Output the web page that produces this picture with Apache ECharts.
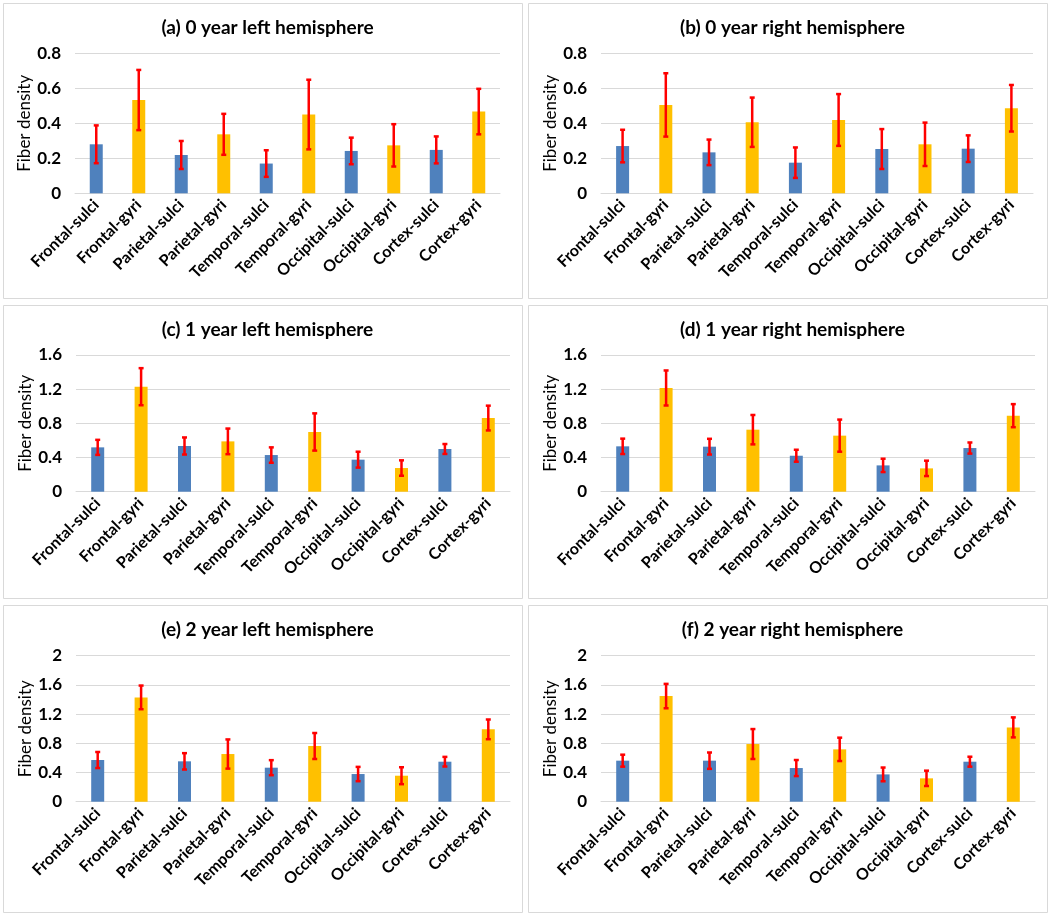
<!DOCTYPE html>
<html><head><meta charset="utf-8">
<script src="https://cdn.jsdelivr.net/npm/echarts@6/dist/echarts.min.js"></script>
<style>html,body{margin:0;padding:0;background:#fff}#c{width:1050px;height:914px}</style>
</head><body><div id="c"></div>
<script>
var categories = ['Frontal-sulci','Frontal-gyri','Parietal-sulci','Parietal-gyri','Temporal-sulci','Temporal-gyri','Occipital-sulci','Occipital-gyri','Cortex-sulci','Cortex-gyri'];
var titles = ['(a) 0 year left hemisphere','(b) 0 year right hemisphere','(c) 1 year left hemisphere','(d) 1 year right hemisphere','(e) 2 year left hemisphere','(f) 2 year right hemisphere'];
var meanA = [0.28,0.533,0.219,0.337,0.170,0.450,0.242,0.274,0.248,0.467];
var errA  = [0.108,0.172,0.080,0.117,0.076,0.199,0.076,0.121,0.077,0.130];
var meanB = [0.270,0.505,0.234,0.406,0.175,0.419,0.253,0.280,0.255,0.486];
var errB  = [0.093,0.181,0.073,0.141,0.087,0.148,0.114,0.124,0.076,0.133];
var meanC = [0.519,1.229,0.535,0.589,0.429,0.699,0.375,0.277,0.500,0.862];
var errC  = [0.088,0.217,0.100,0.150,0.090,0.218,0.093,0.090,0.058,0.145];
var meanD = [0.531,1.214,0.527,0.726,0.421,0.656,0.308,0.273,0.511,0.890];
var errD  = [0.090,0.205,0.092,0.172,0.070,0.188,0.078,0.090,0.065,0.135];
var meanE = [0.571,1.429,0.553,0.653,0.466,0.763,0.379,0.356,0.548,0.991];
var errE  = [0.110,0.162,0.112,0.200,0.103,0.178,0.098,0.116,0.066,0.135];
var meanF = [0.562,1.447,0.562,0.790,0.461,0.717,0.374,0.320,0.548,1.018];
var errF  = [0.082,0.167,0.112,0.205,0.110,0.160,0.094,0.105,0.068,0.137];
var yMax = [0.8,0.8,1.6,1.6,2,2];
var yStep = [0.2,0.2,0.4,0.4,0.4,0.4];

var means = [meanA,meanB,meanC,meanD,meanE,meanF];
var errs = [errA,errB,errC,errD,errE,errF];

var BLUE = '#4F81BD', YELLOW = '#FFC000', RED = '#FF0000';
var FONT = 'Lato';

var panels = [
  {x:3,y:3,w:519,h:295},{x:528,y:3,w:519,h:295},
  {x:3,y:305,w:519,h:293},{x:528,y:305,w:519,h:293},
  {x:3,y:605,w:519,h:307},{x:528,y:605,w:519,h:307}
];
var grids = [
  {left:75,top:53.3,width:425,height:140},
  {left:601,top:53.3,width:432,height:140},
  {left:76,top:355,width:434,height:136.7},
  {left:601,top:355,width:434,height:136.7},
  {left:76,top:655.7,width:434,height:146},
  {left:601,top:655.7,width:434,height:146}
];
var titleY = [13,13,315,315,615,615];

var option = {
  backgroundColor:'#fff',
  animation:false,
  graphic: panels.map(function(p){return {type:'rect',shape:{x:p.x+0.5,y:p.y+0.5,width:p.w,height:p.h},style:{fill:'none',stroke:'#d9d9d9',lineWidth:1},silent:true};}),
  title: titles.map(function(t,i){var p=panels[i];return {text:t,left:p.x+p.w/2,top:titleY[i],textAlign:'center',textStyle:{fontFamily:FONT,fontWeight:'bold',fontSize:19,color:'#000'}};}),
  grid: grids.map(function(g){return {left:g.left,top:g.top,width:g.width,height:g.height,containLabel:false};}),
  xAxis: grids.map(function(g,i){return {type:'category',gridIndex:i,data:categories,
    axisLine:{lineStyle:{color:'#d9d9d9'}},axisTick:{show:false},
    axisLabel:{interval:0,rotate:45,fontFamily:FONT,fontWeight:'bold',fontSize:16,color:'#000',margin:9}};}),
  yAxis: grids.map(function(g,i){return {type:'value',gridIndex:i,min:0,max:yMax[i],interval:yStep[i],
    name:'Fiber density',nameLocation:'middle',nameGap:41,nameTextStyle:{fontFamily:FONT,fontSize:17,color:'#000'},
    axisLine:{show:false},axisTick:{show:false},
    splitLine:{lineStyle:{color:'#d9d9d9'}},
    axisLabel:{fontFamily:FONT,fontWeight:'bold',fontSize:17,color:'#000',margin:14}};}),
  series: []
};
means.forEach(function(m,i){
  option.series.push({type:'bar',xAxisIndex:i,yAxisIndex:i,barWidth:13,
    data:m.map(function(v,k){return {value:v,itemStyle:{color:(k%2===0)?BLUE:YELLOW}};})});
  option.series.push({type:'custom',xAxisIndex:i,yAxisIndex:i,z:10,
    data:m.map(function(v,k){return [k,v-errs[i][k],v+errs[i][k]];}),
    renderItem:function(params,api){
      var lo=api.coord([api.value(0),api.value(1)]);
      var hi=api.coord([api.value(0),api.value(2)]);
      var c=2.5;
      var st={stroke:RED,lineWidth:2.5};
      return {type:'group',children:[
        {type:'line',shape:{x1:hi[0],y1:hi[1],x2:lo[0],y2:lo[1]},style:st},
        {type:'line',shape:{x1:hi[0]-c,y1:hi[1],x2:hi[0]+c,y2:hi[1]},style:st},
        {type:'line',shape:{x1:lo[0]-c,y1:lo[1],x2:lo[0]+c,y2:lo[1]},style:st}
      ]};
    }});
});
var chart = echarts.init(document.getElementById('c'),null,{renderer:'canvas'});
chart.setOption(option);
</script></body></html>
